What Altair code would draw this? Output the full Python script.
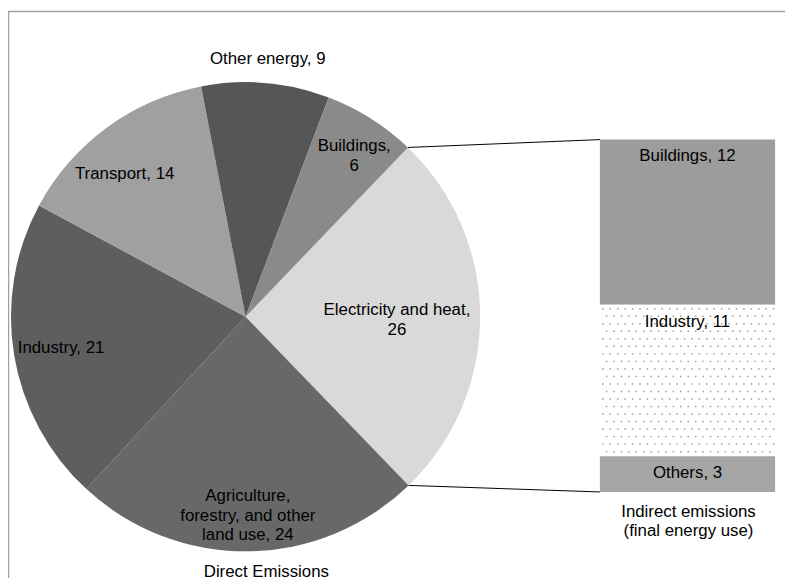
import math
import numpy as np
import pandas as pd
import altair as alt

# ---------------- data ----------------
direct_categories = ["Electricity and heat", "Agriculture, forestry, and other land use",
                     "Industry", "Transport", "Other energy", "Buildings"]
direct_values = [25.6, 24.1, 21.0, 14.1, 8.8, 6.4]

indirect_categories = ["Buildings", "Industry", "Others"]
indirect_values = [12.0, 11.0, 2.6]

direct_title = "Direct Emissions"
indirect_title = "Indirect emissions\n(final energy use)"

# ---------------- style ----------------
direct_colors = ["#d9d9d9", "#686868", "#5e5e5e", "#a0a0a0", "#565656", "#8a8a8a"]
indirect_colors = ["#9c9c9c", "#ffffff", "#a6a6a6"]
label_fmt = {
    "Electricity and heat": "Electricity and heat,\n{}",
    "Agriculture, forestry, and other land use": "Agriculture,\nforestry, and other\nland use, {}",
    "Buildings": "Buildings,\n{}",
}
label_radius = {
    "Electricity and heat": 153, "Agriculture, forestry, and other land use": 201,
    "Industry": 189, "Transport": 189, "Other energy": 261, "Buildings": 196,
}
label_nudge = {"Transport": -1.1, "Buildings": 0.5, "Electricity and heat": 0.4}  # value units
W, H = 785, 573
CX, CY, R = 240, 309, 237
START = math.radians(43.8)
BAR_X0, BAR_X1 = 598, 775
BAR_BOTTOM, BAR_TOP = 486, 130
FONT = "Liberation Sans"
FS = 17
LH = 20

# ---------------- pie ----------------
pie = pd.DataFrame({
    "cat": direct_categories,
    "value": direct_values,
    "order": list(range(len(direct_categories))),
})
pie["label"] = [label_fmt.get(c, c + ", {}").format(round(v)) for c, v in zip(direct_categories, direct_values)]
pie["r"] = [label_radius[c] for c in direct_categories]
pie["nudge"] = [label_nudge.get(c, 0.0) for c in direct_categories]
pie["nlines"] = [s.count("\n") + 1 for s in pie["label"]]
pie_total = sum(direct_values)

theta_scale = alt.Scale(domain=[0, pie_total], range=[START, START + 2 * math.pi], nice=False, zero=True)
color_scale = alt.Scale(domain=direct_categories, range=direct_colors)

arcs = alt.Chart(pie).mark_arc(outerRadius=R, stroke=None).encode(
    theta=alt.Theta("value:Q", stack=True, scale=theta_scale),
    order=alt.Order("order:Q"),
    color=alt.Color("cat:N", scale=color_scale, legend=None),
    x=alt.value(CX), y=alt.value(CY),
)

text_layers = []
for n in sorted(pie["nlines"].unique()):
    text_layers.append(
        alt.Chart(pie).transform_window(
            cum="sum(value)", sort=[alt.SortField("order", order="ascending")], frame=[None, 0]
        ).transform_calculate(
            mid="datum.cum - datum.value / 2 + datum.nudge"
        ).transform_filter(
            alt.datum.nlines == int(n)
        ).mark_text(font=FONT, fontSize=FS, color="#000000", lineBreak="\n", lineHeight=LH,
                    baseline="middle", dy=-(int(n) - 1) * LH / 2).encode(
            theta=alt.Theta("mid:Q", stack=None, scale=theta_scale),
            radius=alt.Radius("r:Q", scale=None),
            text="label:N",
            x=alt.value(CX), y=alt.value(CY),
        )
    )

# ---------------- stacked bar ----------------
bar_total = sum(indirect_values)
bar = pd.DataFrame({"cat": indirect_categories, "value": indirect_values})
ends = np.cumsum(indirect_values[::-1])[::-1]
bar["end"] = ends
bar["start"] = ends - np.array(indirect_values)
bar["label"] = [f"{c}, {round(v)}" for c, v in zip(indirect_categories, indirect_values)]

y_scale = alt.Scale(domain=[0, bar_total], range=[BAR_BOTTOM, BAR_TOP], nice=False, zero=True)
bar_color = alt.Scale(domain=indirect_categories, range=indirect_colors)

bars = alt.Chart(bar).mark_rect().encode(
    x=alt.value(BAR_X0), x2=alt.value(BAR_X1),
    y=alt.Y("start:Q", scale=y_scale, axis=None), y2="end:Q",
    color=alt.Color("cat:N", scale=bar_color, legend=None),
)
bar_text = alt.Chart(bar).mark_text(font=FONT, fontSize=FS, color="#000000", baseline="middle", dy=17).encode(
    x=alt.value((BAR_X0 + BAR_X1) / 2),
    y=alt.Y("end:Q", scale=y_scale, axis=None),
    text="label:N",
)


def ypix(v):
    return BAR_BOTTOM + (BAR_TOP - BAR_BOTTOM) * v / bar_total


# dotted texture for the "Industry" segment
ind = bar[bar["cat"] == "Industry"].iloc[0]
y_hi, y_lo = ypix(ind["end"]), ypix(ind["start"])
dots = []
row = 0
yy = y_hi + 4
while yy < y_lo - 1:
    xx = BAR_X0 + 3 + (3.75 if row % 2 else 0)
    while xx < BAR_X1 - 1:
        dots.append({"px": xx, "py": yy})
        xx += 7.5
    yy += 7.6
    row += 1
dots = pd.DataFrame(dots)
dot_layer = alt.Chart(dots).mark_square(size=2.2, color="#909090", opacity=0.9).encode(
    x=alt.X("px:Q", scale=None, axis=None), y=alt.Y("py:Q", scale=None, axis=None)
)

# connector lines from the electricity slice to the bar
a_top = START
a_bot = START + 2 * math.pi * direct_values[0] / pie_total
conn = pd.DataFrame({
    "x1": [CX + R * math.sin(a_top), CX + R * math.sin(a_bot)],
    "y1": [CY - R * math.cos(a_top), CY - R * math.cos(a_bot)],
    "x2": [BAR_X0, BAR_X0],
    "y2": [ypix(bar_total), ypix(0)],
})
connectors = alt.Chart(conn).mark_rule(color="#000000", strokeWidth=1).encode(
    x=alt.X("x1:Q", scale=None, axis=None), y=alt.Y("y1:Q", scale=None, axis=None),
    x2="x2:Q", y2="y2:Q",
)

# titles
titles = pd.DataFrame({
    "t": [direct_title, indirect_title],
    "tx": [261, (BAR_X0 + BAR_X1) / 2 + 1],
    "ty": [567, 506],
})
title_layer = alt.Chart(titles).mark_text(font=FONT, fontSize=FS, color="#000000",
                                          lineBreak="\n", lineHeight=LH, baseline="middle").encode(
    x=alt.X("tx:Q", scale=None, axis=None), y=alt.Y("ty:Q", scale=None, axis=None), text="t:N"
)

# frame (top and left edges)
frame = alt.Chart(pd.DataFrame({"k": [0]})).mark_rule(color="#a0a0a0", strokeWidth=1.5).encode(
    x=alt.value(0.5), x2=alt.value(0.5), y=alt.value(0), y2=alt.value(H)
)
frame_top = alt.Chart(pd.DataFrame({"k": [0]})).mark_rule(color="#a0a0a0", strokeWidth=1.5).encode(
    x=alt.value(0), x2=alt.value(W), y=alt.value(0.5), y2=alt.value(0.5)
)

chart = alt.layer(
    arcs, *text_layers, bars, dot_layer, bar_text, connectors, title_layer, frame, frame_top
).resolve_scale(
    x="independent", y="independent", color="independent", theta="shared"
).properties(
    width=W, height=H, padding=0, autosize=alt.AutoSizeParams(type="none")
).configure_view(stroke=None)

chart.save("out.html", embed_options={"renderer": "svg", "actions": False})
